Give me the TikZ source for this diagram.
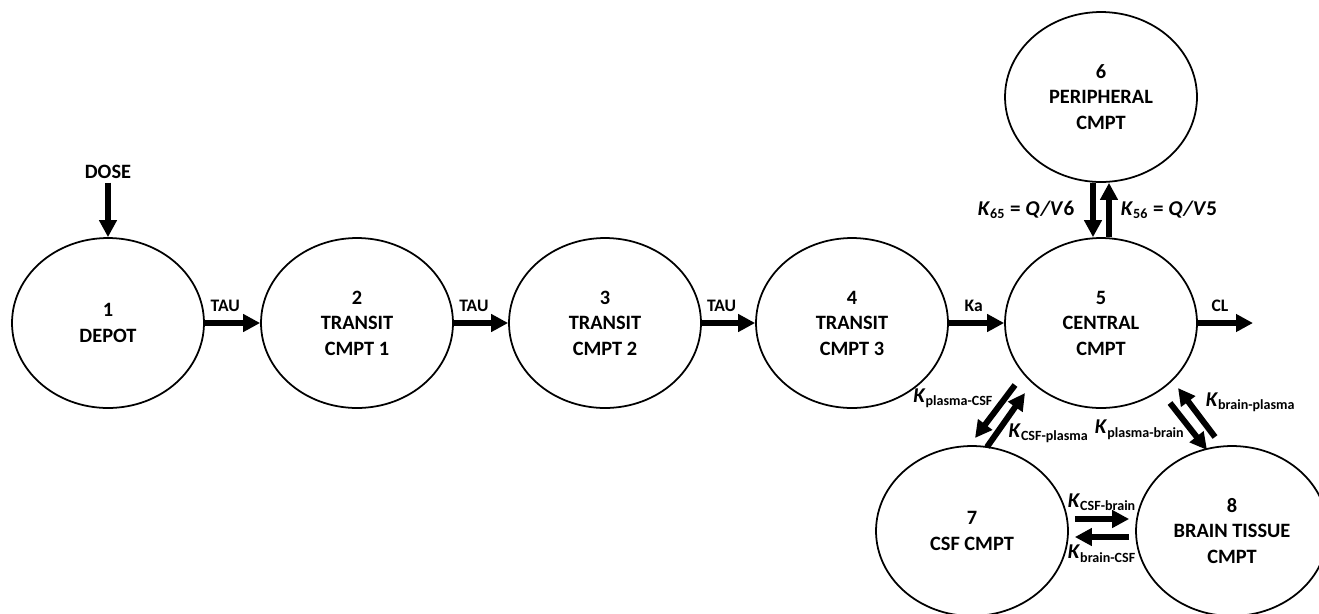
\documentclass[tikz,border=0pt]{standalone}
\usepackage{fontspec}
\setmainfont{Carlito}
\usetikzlibrary{shapes.geometric, arrows.meta, positioning}

\newcommand{\cmptfont}{\bfseries\fontsize{11.6}{14.5}\selectfont}
\newcommand{\ratefont}{\bfseries\fontsize{10}{12}\selectfont}
\newcommand{\kfont}{\bfseries\fontsize{12}{14}\selectfont}
\newcommand{\krate}[1]{\textit{K}\textsubscript{#1}}

\tikzset{
  cmpt/.style={ellipse, draw, line width=1pt, minimum width=3.84cm, minimum height=3.4cm,
    inner sep=0pt, align=center, font=\cmptfont},
  flow/.style={-{Triangle[length=0.34cm,width=0.34cm]}, line width=0.12cm},
  rate/.style={inner sep=0pt, font=\ratefont},
  klab/.style={inner sep=0pt, font=\kfont},
}

\begin{document}
\begin{tikzpicture}[x=0.02cm, y=-0.02cm]
    \useasboundingbox (0,0) rectangle (1319,613);

    % Absorption chain and central compartment
    \foreach \n/\x/\t in {dep/108/{1\\DEPOT}, tr1/357/{2\\TRANSIT\\CMPT 1}, tr2/605/{3\\TRANSIT\\CMPT 2},
                          tr3/852/{4\\TRANSIT\\CMPT 3}, cen/1101/{5\\CENTRAL\\CMPT}} {
      \node[cmpt] (\n) at (\x,323) {\t};
    }

    % Other compartments
    \node[cmpt] (per) at (1101,97) {6\\PERIPHERAL\\CMPT};
    \node[cmpt] (csf) at (972,531) {7\\CSF CMPT};
    \node[cmpt] (brn) at (1232,531) {8\\BRAIN TISSUE\\CMPT};

    % Dose input
    \node[font=\cmptfont, inner sep=2pt] (dose) at (108,172) {DOSE};
    \draw[flow] (dose) -- (dep);

    % Transit and absorption
    \foreach \a/\b in {dep/tr1, tr1/tr2, tr2/tr3}
      \draw[flow] (\a) -- (\b) node[rate, above=5pt, pos=0.37] {TAU};
    \draw[flow] (tr3) -- (cen) node[rate, above=5pt, pos=0.45] {Ka};

    % Elimination
    \coordinate (elim) at (1253,323);
    \draw[flow] (cen) -- (elim) node[rate, above=5pt, pos=0.4] {CL};

    % Central <-> peripheral
    \draw[flow] ([shift={(-8,0)}]per.south) -- ([shift={(-8,0)}]cen.north)
      node[klab, midway, left=9pt] {\krate{65} = \textit{Q/V}6};
    \draw[flow] ([shift={(8,0)}]cen.north) -- ([shift={(8,0)}]per.south)
      node[klab, midway, right=5pt] {\krate{56} = \textit{Q/V}5};

    % Central <-> CSF
    \draw[flow] ([shift={(-86,62)}]cen.center) -- ([shift={(3,-93)}]csf.center)
      node[klab, pos=0.25, anchor=east, xshift=-5pt] {\krate{plasma-CSF}};
    \draw[flow] ([shift={(15,-84)}]csf.center) -- ([shift={(-76,70)}]cen.center)
      node[klab, pos=0.26, anchor=west, xshift=5pt] {\krate{CSF-plasma}};

    % Central <-> brain tissue
    \draw[flow] ([shift={(69,80)}]cen.center) -- ([shift={(-25,-81)}]brn.center)
      node[klab, pos=0.57, anchor=east, xshift=-2pt] {\krate{plasma-brain}};
    \draw[flow] ([shift={(-17,-94)}]brn.center) -- ([shift={(77,65)}]cen.center)
      node[klab, pos=0.71, anchor=west, xshift=8pt] {\krate{brain-plasma}};

    % CSF <-> brain tissue
    \draw[flow] ([shift={(6,-12)}]csf.east) -- ([shift={(-6,-12)}]brn.west)
      node[klab, midway, above=3pt] {\krate{CSF-brain}};
    \draw[flow] ([shift={(-6,6)}]brn.west) -- ([shift={(6,6)}]csf.east)
      node[klab, midway, below=3pt] {\krate{brain-CSF}};

\end{tikzpicture}
\end{document}
